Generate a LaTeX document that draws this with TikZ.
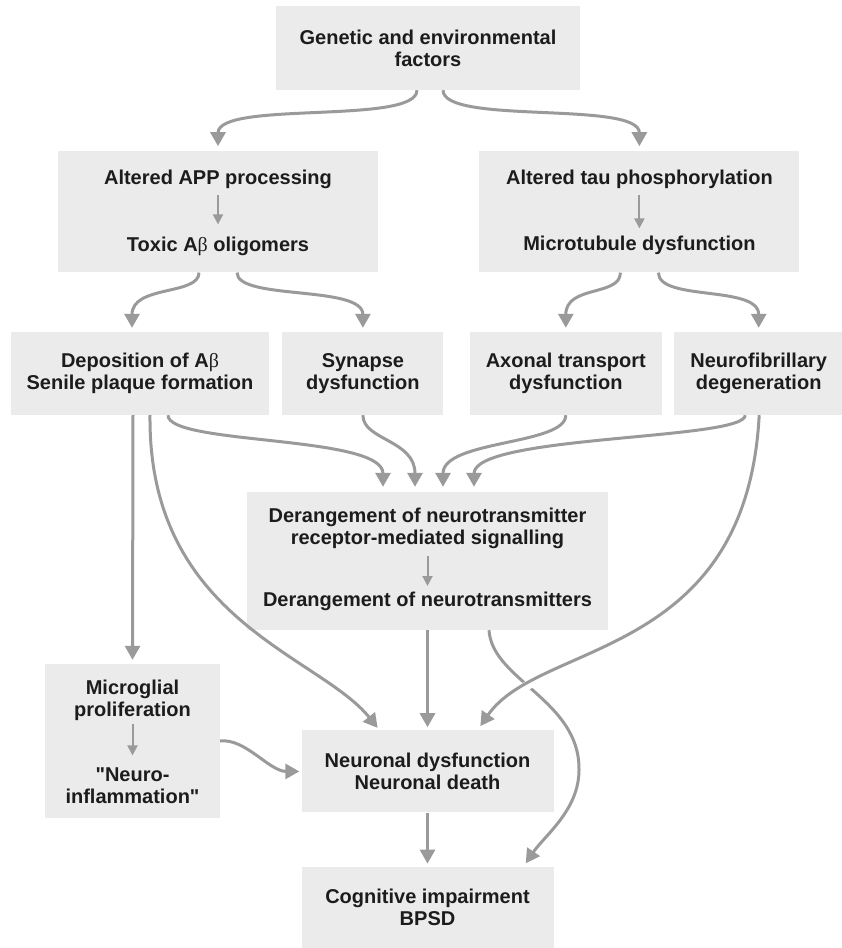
\documentclass[tikz,border=0pt]{standalone}
\usepackage{fontspec}
\setmainfont{Liberation Sans}
\newfontfamily\betafont{Liberation Serif}
\usetikzlibrary{positioning,arrows.meta}
\definecolor{boxgray}{HTML}{EBEBEB}
\definecolor{arrowgray}{HTML}{9A9A9A}
\definecolor{inkgray}{HTML}{1C1C1C}
\newcommand{\abeta}{A{\betafont\mdseries β}}

\begin{document}
\begin{tikzpicture}[x=1pt,y=-1pt,
    font=\bfseries\fontsize{20}{22}\selectfont, text=inkgray,
    box/.style={fill=boxgray,inner sep=0pt,align=center},
    txt/.style={inner sep=0pt,align=center},
    line/.style={inner sep=0pt,text height=15pt,text depth=5pt},
    flow/.style={draw=arrowgray,line width=3pt,-{Triangle[width=15pt,length=14pt]}},
    substep/.style={draw=arrowgray,line width=2pt,-{Triangle[width=10pt,length=10pt]}}]

\useasboundingbox (0,0) rectangle (842,948);

% boxes
\node[box,minimum width=304pt,minimum height=84pt] (genes) at (428,48) {Genetic and environmental\\factors};
\node[box,minimum width=320pt,minimum height=121pt,below=61pt of genes,xshift=-210pt] (app) {};
\node[box,minimum width=320pt,minimum height=121pt,right=101pt of app] (tau) {};
\node[line,anchor=base] (app1) at ([yshift=-33pt]app.north) {Altered APP processing};
\node[line,anchor=base] (app2) at ([yshift=21pt]app.south) {Toxic \abeta{} oligomers};
\node[line,anchor=base] (tau1) at ([yshift=-33pt]tau.north) {Altered tau phosphorylation};
\node[line,anchor=base] (tau2) at ([yshift=22pt]tau.south) {Microtubule dysfunction};

\node[box,minimum width=258pt,minimum height=83pt] (dep) at (140,373.5) {Deposition of \abeta\\Senile plaque formation};
\node[box,minimum width=161pt,minimum height=83pt,right=13pt of dep] (syn) {Synapse\\dysfunction};
\node[box,minimum width=192pt,minimum height=83pt,right=26pt of syn] (axo) {Axonal transport\\dysfunction};
\node[box,minimum width=169pt,minimum height=83pt,right=12pt of axo] (nfd) {Neurofibrillary\\degeneration};

\node[box,minimum width=361pt,minimum height=138pt] (der) at (427.5,561) {};
\node[txt] (der1) at ([yshift=-37pt]der.north) {Derangement of neurotransmitter\\receptor-mediated signalling};
\node[line,anchor=base] (der2) at ([yshift=24pt]der.south) {Derangement of neurotransmitters};

\node[box,minimum width=175pt,minimum height=154pt] (mic) at (132.5,741) {};
\node[txt] (mic1) at ([yshift=-36.5pt]mic.north) {Microglial\\proliferation};
\node[txt] (mic2) at ([yshift=32pt]mic.south) {\textquotedbl Neuro-\\inflammation\textquotedbl};

\node[box,minimum width=252pt,minimum height=82pt,below=100pt of der] (neur) {Neuronal dysfunction\\Neuronal death};
\node[box,minimum width=252pt,minimum height=82pt,below=54pt of neur] (cog) {Cognitive impairment\\BPSD};

% steps inside the boxes
\draw[substep,shorten <=6pt,shorten >=12pt] (app1) -- (app2);
\draw[substep,shorten <=6pt,shorten >=7pt] (tau1) -- (tau2);
\draw[substep,shorten <=7pt,shorten >=5pt] (der1) -- (der2);
\draw[substep,shorten <=3pt,shorten >=12.6pt] (mic1) -- (mic2);

% connectors
\coordinate (dcbend) at (579,770);
\draw[flow,shorten >=4pt] ([xshift=61.5pt]der.south) .. controls +(3,50) and +(1,-70) .. (dcbend)
    .. controls +(0,40) and +(21,-31) .. ([xshift=96pt]cog.north);
\draw[flow,shorten >=5pt,preaction={draw=white,line width=9pt,-,shorten >=8pt}]
    ([xshift=0.5pt]nfd.south) .. controls +(-13,245) and +(62,-90) .. ([xshift=50pt]neur.north);

\draw[flow,shorten >=5pt] ([xshift=-11pt]genes.south) .. controls +(0,35) and +(0,-51) .. (app.north);
\draw[flow,shorten >=5pt] ([xshift=15pt]genes.south) .. controls +(0,35) and +(0,-51) .. (tau.north);
\draw[flow,shorten >=4pt] ([xshift=-19pt]app.south) .. controls +(0,23) and +(0,-47) .. ([xshift=-8pt]dep.north);
\draw[flow,shorten >=4pt] ([xshift=19pt]app.south) .. controls +(0,28) and +(0,-47) .. (syn.north);
\draw[flow,shorten >=4pt] ([xshift=-19pt]tau.south) .. controls +(0,24) and +(0,-47) .. (axo.north);
\draw[flow,shorten >=4pt] ([xshift=19pt]tau.south) .. controls +(0,29) and +(0,-47) .. (nfd.north);

\draw[flow,shorten >=4pt] ([xshift=-7pt]dep.south) -- (mic.north);
\draw[flow,shorten >=3pt] ([xshift=10pt]dep.south) .. controls +(-2,205) and +(-60,-75) .. ([xshift=-48pt]neur.north);
\draw[flow,shorten >=5pt] ([xshift=28pt]dep.south) .. controls +(0,30) and +(0,-57) .. ([xshift=-44.5pt]der.north);
\draw[flow,shorten >=5pt] (syn.south) .. controls +(0,25) and +(0,-52) .. ([xshift=-12.5pt]der.north);
\draw[flow,shorten >=5pt] (axo.south) .. controls +(0,30) and +(0,-52) .. ([xshift=15.5pt]der.north);
\draw[flow,shorten >=5pt] ([xshift=-13.5pt]nfd.south) .. controls +(0,25) and +(0,-57) .. ([xshift=46.5pt]der.north);

\draw[flow,shorten >=3pt] (der.south) -- (neur.north);
\draw[flow,shorten >=2pt] (mic.east) .. controls +(25,-3) and +(-32,0) .. (neur.west);
\draw[flow,shorten >=3pt] (neur.south) -- (cog.north);
\end{tikzpicture}
\end{document}
